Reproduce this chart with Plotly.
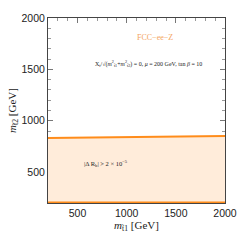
import plotly.graph_objects as go

# Data
mst1 = [200, 500, 1000, 1500, 2000]
mst2_bound = [832, 836, 842, 847, 851]
mst2_floor = [200, 200, 200, 200, 200]

orange = "#FF8C1A"
fillc = "rgba(255,236,218,1)"

fig = go.Figure()
fig.add_trace(go.Scatter(x=mst1, y=mst2_floor, mode="lines",
                         line=dict(color=orange, width=3), showlegend=False))
fig.add_trace(go.Scatter(x=mst1, y=mst2_bound, mode="lines", fill="tonexty",
                         fillcolor=fillc, line=dict(color=orange, width=2),
                         showlegend=False))

fig.add_annotation(x=1290, y=1810, text="FCC−ee−Z", showarrow=False,
                   font=dict(family="Liberation Serif", size=8, color="#F4A460"))
fig.add_annotation(x=1220, y=1560,
                   text="X<sub>t</sub>/√(<i>m</i><sup>2</sup><sub>t̃1</sub>+<i>m</i><sup>2</sup><sub>t̃2</sub>) = 0, <i>μ</i> = 200 GeV, tan <i>β</i> = 10",
                   showarrow=False,
                   font=dict(family="Liberation Serif", size=6, color="#222"))
fig.add_annotation(x=790, y=580, text="|Δ R<sub>b</sub>| > 2 × 10<sup>−5</sup>",
                   showarrow=False,
                   font=dict(family="Liberation Serif", size=6.5, color="#222"))

axis_common = dict(
    range=[200, 2000], tickvals=[500, 1000, 1500, 2000], ticks="inside",
    ticklen=5, tickcolor="#777", tickwidth=1, showgrid=False, zeroline=False,
    showline=True, linecolor="#444", linewidth=1, mirror="allticks",
    layer="below traces", ticklabeloverflow="allow",
    tickfont=dict(family="Liberation Sans", size=10.5, color="#222"),
    minor=dict(tickvals=list(range(200, 2001, 100)), ticks="inside",
               ticklen=3, tickcolor="#999", showgrid=False),
)

fig.update_xaxes(**axis_common,
                 title=dict(text="<i>m</i><sub>t̃1</sub> [GeV]", standoff=2,
                            font=dict(family="Liberation Serif", size=11, color="#222")))
fig.update_yaxes(**axis_common,
                 title=dict(text="<i>m</i><sub>t̃2</sub> [GeV]", standoff=2,
                            font=dict(family="Liberation Serif", size=11, color="#222")))

fig.update_layout(width=249, height=240,
                  margin=dict(l=48, r=12, t=14, b=36),
                  plot_bgcolor="white", paper_bgcolor="white")

fig.write_html("out.html", config={"displayModeBar": False},
               post_script="document.body.style.margin='0';document.body.style.overflow='hidden';")
